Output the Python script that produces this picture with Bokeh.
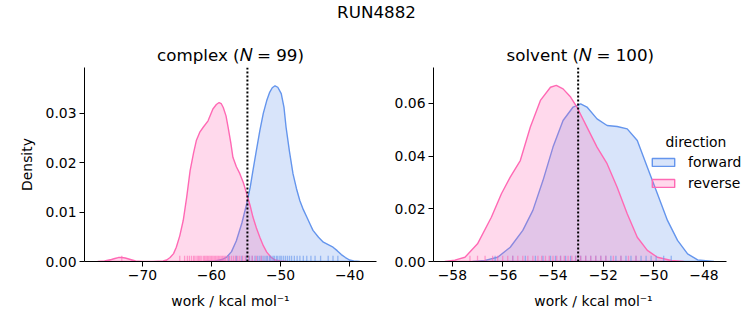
from bokeh.plotting import figure
from bokeh.models import Range1d, FixedTicker, Span, Legend, LegendItem, Label, Div
from bokeh.layouts import column, row
from bokeh.embed import file_html
from bokeh.resources import INLINE

# ---------------- data ----------------
suptitle = "RUN4882"
titles = ["complex (\U0001D441 = 99)", "solvent (\U0001D441 = 100)"]
directions = ["forward", "reverse"]
legend_title = "direction"

# complex phase KDE curves (work in kcal/mol, density)
cx_rev_x = [-76.5, -75.5, -74.5, -74.0, -73.5, -73.0, -72.5, -72.0, -71.5, -71.0, -70.0, -68.5, -67.0, -66.5,
            -66.0, -65.5, -65.1, -64.6, -64.1, -63.6, -63.1, -62.6, -62.2, -61.7, -61.2, -60.5, -59.8,
            -59.3, -58.9, -58.6, -58.3, -57.9, -57.6, -57.2, -56.9, -56.4, -55.9, -55.4, -54.9, -54.4,
            -54.0, -53.5, -53.0, -52.5, -52.0, -51.4, -50.8, -50.0, -49.0]
cx_rev_y = [0.0, 0.0001, 0.0004, 0.0006, 0.0008, 0.0008, 0.0007, 0.0005, 0.0003, 0.0001, 0.0, 0.0, 0.0001, 0.0003,
            0.0008, 0.0016, 0.0029, 0.0052, 0.0083, 0.0130, 0.0184, 0.0220, 0.0245, 0.0262, 0.0272, 0.0285, 0.0309,
            0.0318, 0.0322, 0.0320, 0.0312, 0.0295, 0.0272, 0.0240, 0.0211, 0.0192, 0.0178, 0.0160, 0.0137, 0.0113,
            0.0090, 0.0068, 0.0049, 0.0032, 0.0019, 0.0009, 0.0003, 0.0001, 0.0]
cx_fwd_x = [-61.0, -59.5, -58.5, -57.8, -57.1, -56.4, -55.6, -54.9, -54.4, -54.0, -53.5, -53.0, -52.5, -52.0,
            -51.6, -51.2, -50.8, -50.4, -49.9, -49.5, -49.2, -48.7, -48.2, -47.7, -47.2, -46.7, -46.2, -45.7,
            -45.3, -44.5, -43.8, -43.1, -42.4, -41.8, -41.2, -40.6, -40.0, -39.4, -38.5]
cx_fwd_y = [0.0, 0.0001, 0.0004, 0.0009, 0.0020, 0.0042, 0.0078, 0.0117, 0.0150, 0.0184, 0.0225, 0.0265, 0.0300, 0.0326,
            0.0342, 0.0352, 0.0356, 0.0353, 0.0340, 0.0312, 0.0272, 0.0222, 0.0178, 0.0148, 0.0123, 0.0105, 0.0090, 0.0075,
            0.0063, 0.0049, 0.0039, 0.0034, 0.0029, 0.0022, 0.0014, 0.0008, 0.0003, 0.0001, 0.0]

# solvent phase KDE curves
sv_rev_x = [-58.3, -57.9, -57.5, -57.0, -56.45, -56.05, -55.7, -55.3, -54.9, -54.5, -54.1, -53.87, -53.6, -53.3,
            -53.05, -52.65, -52.25, -51.85, -51.45, -51.05, -50.65, -50.25, -49.85, -49.3, -48.8]
sv_rev_y = [0.0, 0.0005, 0.0016, 0.0067, 0.0168, 0.0257, 0.0320, 0.0383, 0.0510, 0.0611, 0.0661, 0.0668, 0.0655, 0.0624,
            0.0586, 0.0510, 0.0434, 0.0371, 0.0282, 0.0181, 0.0092, 0.0042, 0.0016, 0.0004, 0.0]
sv_fwd_x = [-57.2, -56.7, -56.2, -55.7, -55.2, -54.8, -54.4, -54.0, -53.6, -53.2, -52.9, -52.65, -52.25, -51.85,
            -51.45, -51.05, -50.65, -50.25, -49.85, -49.45, -49.05, -48.65, -48.25, -47.6]
sv_fwd_y = [0.0, 0.0004, 0.0016, 0.0054, 0.0118, 0.0194, 0.0307, 0.0434, 0.0535, 0.0586, 0.0598, 0.0586, 0.0541, 0.0516,
            0.0512, 0.0503, 0.0459, 0.0358, 0.0257, 0.0156, 0.0080, 0.0029, 0.0006, 0.0]

# rug samples
cx_rev_rug = [-73.0, -64.6, -63.9, -63.5, -63.2, -62.9, -62.6, -62.4, -62.1, -61.9, -61.7, -61.5, -61.2, -61.0,
              -60.8, -60.6, -60.4, -60.2, -60.0, -59.8, -59.6, -59.4, -59.2, -59.0, -58.8, -58.6, -58.4, -58.2,
              -58.0, -57.7, -57.4, -57.1, -56.8, -56.5, -56.2, -55.9, -55.5, -55.1, -54.6, -54.1, -53.5, -52.8]
cx_fwd_rug = [-57.5, -56.4, -55.6, -55.0, -54.5, -54.1, -53.7, -53.3, -53.0, -52.7, -52.4, -52.1, -51.9, -51.6,
              -51.4, -51.1, -50.9, -50.6, -50.4, -50.1, -49.9, -49.6, -49.3, -49.0, -48.7, -48.4, -48.0, -47.6,
              -47.2, -46.7, -46.2, -45.6, -45.0, -44.2, -43.1, -42.4, -41.7]
sv_rev_rug = [-57.3, -57.0, -56.7, -56.4, -56.2, -56.0, -55.8, -55.6, -55.4, -55.2, -55.0, -54.8, -54.6, -54.45,
              -54.3, -54.15, -54.0, -53.85, -53.7, -53.55, -53.4, -53.25, -53.1, -52.9, -52.7, -52.5, -52.3, -52.1,
              -51.9, -51.6, -51.3, -51.0, -50.7]
sv_fwd_rug = [-56.3, -55.6, -55.1, -54.7, -54.4, -54.1, -53.9, -53.7, -53.5, -53.3, -53.1, -52.9, -52.7, -52.5,
              -52.3, -52.1, -51.9, -51.7, -51.5, -51.3, -51.1, -50.9, -50.7, -50.5, -50.3, -50.1, -49.9, -49.6, -49.3]

# estimates (vertical dotted lines)
cx_estimate = -54.8
sv_estimate = -53.0

# axes ticks
cx_xticks = [-70, -60, -50, -40]
cx_yticks = [0.0, 0.01, 0.02, 0.03]
sv_xticks = [-58, -56, -54, -52, -50, -48]
sv_yticks = [0.0, 0.02, 0.04, 0.06]

# ---------------- style ----------------
FWD = "#6495ED"
REV = "#FF69B4"
FONT = "DejaVu Sans"
TICK_FS = "13.9px"
TITLE_FS = "16.7px"


def make_panel(title, xr, xbounds, yr, xticks, yticks, curves, rugs, estimate,
               mbl, fw, mbr, ylabel, title_align="center", title_offset=0):
    p = figure(width=mbl + fw + mbr, height=300, frame_width=fw, frame_height=194,
               min_border_left=mbl, min_border_right=mbr, min_border_top=42, min_border_bottom=64,
               x_range=Range1d(*xr), y_range=Range1d(*yr),
               output_backend="svg", toolbar_location=None, title=title)
    p.title.text_font = FONT
    p.title.text_font_size = TITLE_FS
    p.title.text_font_style = "normal"
    p.title.text_color = "black"
    p.title.align = title_align
    p.title.offset = title_offset
    p.title.standoff = 6
    p.grid.visible = False
    p.outline_line_color = None
    p.background_fill_color = "white"
    p.border_fill_color = "white"
    for ax, ticks, fmt in ((p.xaxis[0], xticks, "{:.0f}"), (p.yaxis[0], yticks, "{:.2f}")):
        ax.ticker = FixedTicker(ticks=ticks)
        ax.major_label_overrides = {t: fmt.format(t).replace("-", "\u2212") for t in ticks}
        ax.minor_tick_line_color = None
        ax.major_tick_out = 5
        ax.major_tick_in = 0
        ax.major_label_standoff = 3
        ax.major_label_text_font = FONT
        ax.major_label_text_font_size = TICK_FS
        ax.major_label_text_color = "black"
        ax.axis_line_color = "black"
        ax.major_tick_line_color = "black"
        ax.axis_label_text_font = FONT
        ax.axis_label_text_font_size = TICK_FS
        ax.axis_label_text_font_style = "normal"
        ax.axis_label_text_color = "black"
    p.xaxis.bounds = xbounds
    p.xaxis.axis_label = "work / kcal mol\u207b\u00b9"
    p.xaxis.axis_label_standoff = 10
    if ylabel:
        p.yaxis.axis_label = ylabel
        p.yaxis.axis_label_standoff = 8

    rends = []
    for (x, y), col in zip(curves, (FWD, REV)):
        rends.append(p.patch(x=x, y=y, fill_color=col, fill_alpha=0.25,
                             line_color=col, line_width=1.4))

    h = 0.03 * (yr[1] - yr[0])
    for r, col in zip(rugs, (FWD, REV)):
        p.segment(x0=r, y0=[0] * len(r), x1=r, y1=[h] * len(r), line_color=col, line_alpha=0.6, line_width=1.3)

    p.add_layout(Span(location=estimate, dimension="height", line_color="black",
                      line_width=2, line_dash="2 2"))
    return p, rends


p1, _ = make_panel(titles[0], (-78.4, -36.1), (-78.4, -36.1), (0, 0.0393), cx_xticks, cx_yticks,
                   [(cx_fwd_x, cx_fwd_y), (cx_rev_x, cx_rev_y)], [cx_fwd_rug, cx_rev_rug],
                   cx_estimate, 84, 292, 14, "Density")
p2, r2 = make_panel(titles[1], (-58.75, -46.03), (-58.75, -47.1), (0, 0.0736), sv_xticks, sv_yticks,
                    [(sv_fwd_x, sv_fwd_y), (sv_rev_x, sv_rev_y)], [sv_fwd_rug, sv_rev_rug],
                    sv_estimate, 43, 320, 0, None, title_align="left", title_offset=73)

# legend
leg = Legend(items=[LegendItem(label=directions[0], renderers=[r2[0]]),
                    LegendItem(label=directions[1], renderers=[r2[1]])],
             location=(216, 68), border_line_alpha=0, background_fill_alpha=0,
             padding=0, margin=0, spacing=1, glyph_width=28, glyph_height=10,
             label_standoff=11, label_height=20,
             label_text_font=FONT, label_text_font_size=TICK_FS, label_text_color="black")
p2.add_layout(leg)
p2.add_layout(Label(x=232, y=120, x_units="screen", y_units="screen", text=legend_title,
                    text_font=FONT, text_font_size=TICK_FS, text_color="black",
                    text_baseline="alphabetic"))

head = Div(text='<div style="width:753px;text-align:center;font-family:\'DejaVu Sans\';font-size:16.7px;'
                'padding-top:1px;color:black">' + suptitle + '</div>',
           width=753, height=25, margin=0)

layout = column(head, row(p1, p2, spacing=0), spacing=0)
open("out.html", "w").write(file_html(layout, INLINE))
